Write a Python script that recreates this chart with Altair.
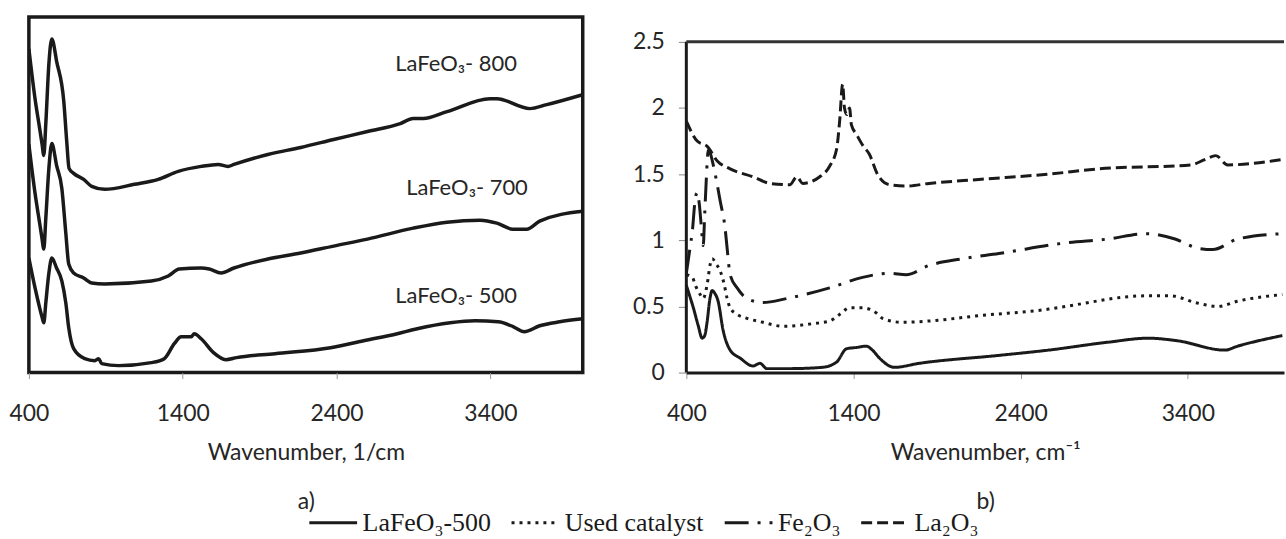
import altair as alt
import pandas as pd

# ---------------- Panel a) : LaFeO3 calcined at 500/700/800 (offset, arbitrary units)
a800_w = [400, 440, 470, 485, 497, 510, 530, 549, 581, 627, 646, 661, 691, 756, 808, 892, 1086, 1241, 1371, 1520, 1630, 1694, 1733, 1953, 2167, 2381, 2601, 2814, 2898, 2963, 3118, 3397, 3442, 3656, 3766, 4000]
a800_v = [3.25, 2.75, 2.45, 2.30, 2.18, 2.50, 3.10, 3.35, 3.12, 2.72, 2.32, 2.05, 2.00, 1.94, 1.87, 1.84, 1.89, 1.94, 2.02, 2.07, 2.09, 2.07, 2.09, 2.19, 2.26, 2.34, 2.42, 2.50, 2.55, 2.55, 2.62, 2.75, 2.75, 2.65, 2.69, 2.79]

a700_w = [400, 440, 470, 485, 497, 510, 530, 549, 580, 614, 640, 659, 691, 756, 808, 892, 1196, 1306, 1377, 1520, 1572, 1649, 1733, 1953, 2167, 2381, 2601, 2898, 3118, 3332, 3442, 3546, 3636, 3720, 4000]
a700_v = [2.29, 1.80, 1.50, 1.35, 1.24, 1.55, 2.05, 2.30, 2.08, 1.85, 1.40, 1.09, 1.00, 0.95, 0.90, 0.89, 0.92, 0.97, 1.04, 1.05, 1.04, 1.00, 1.05, 1.14, 1.20, 1.27, 1.34, 1.45, 1.51, 1.53, 1.50, 1.44, 1.44, 1.52, 1.62]

a500_w = [400, 440, 470, 485, 497, 510, 530, 549, 580, 614, 640, 659, 691, 763, 828, 854, 873, 983, 1196, 1280, 1345, 1390, 1455, 1475, 1520, 1600, 1680, 1750, 2000, 2361, 2576, 2795, 2924, 3138, 3300, 3450, 3550, 3620, 3720, 3850, 4000]
a500_v = [1.15, 0.85, 0.65, 0.56, 0.50, 0.70, 1.00, 1.15, 1.05, 0.92, 0.70, 0.45, 0.24, 0.14, 0.12, 0.14, 0.09, 0.07, 0.10, 0.14, 0.29, 0.36, 0.36, 0.39, 0.34, 0.20, 0.13, 0.15, 0.19, 0.25, 0.32, 0.39, 0.44, 0.50, 0.52, 0.51, 0.46, 0.41, 0.47, 0.51, 0.54]

ann_text = ["LaFeO\u2083- 800", "LaFeO\u2083- 700", "LaFeO\u2083- 500"]
ann_w = [3177, 3248, 3177]
ann_v = [3.10, 1.85, 0.77]

# ---------------- Panel b)
b_series = ["LaFeO\u2083-500", "Used catalyst", "Fe\u2082O\u2083", "La\u2082O\u2083"]

b500_w = [400, 420, 442, 470, 495, 510, 525, 540, 555, 570, 590, 620, 662, 721, 799, 840, 882, 1019, 1215, 1299, 1358, 1418, 1477, 1513, 1555, 1644, 1793, 2269, 2567, 2924, 3162, 3340, 3620, 3698, 3965]
b500_v = [0.66, 0.58, 0.49, 0.36, 0.26, 0.28, 0.39, 0.55, 0.62, 0.60, 0.54, 0.32, 0.17, 0.11, 0.05, 0.07, 0.03, 0.03, 0.04, 0.08, 0.18, 0.19, 0.20, 0.17, 0.11, 0.04, 0.07, 0.13, 0.17, 0.23, 0.26, 0.24, 0.17, 0.20, 0.28]

bused_w = [400, 436, 454, 483, 501, 525, 543, 555, 579, 602, 626, 644, 662, 704, 763, 858, 977, 1156, 1257, 1317, 1376, 1454, 1537, 1573, 1692, 1852, 2150, 2567, 2668, 3144, 3299, 3442, 3579, 3698, 3965]
bused_v = [0.74, 0.72, 0.66, 0.59, 0.56, 0.67, 0.82, 0.86, 0.82, 0.77, 0.67, 0.56, 0.49, 0.44, 0.41, 0.38, 0.35, 0.37, 0.39, 0.44, 0.49, 0.49, 0.45, 0.41, 0.38, 0.39, 0.43, 0.48, 0.50, 0.58, 0.58, 0.53, 0.50, 0.54, 0.59]

bfe_w = [400, 424, 436, 454, 465, 477, 490, 501, 510, 519, 531, 545, 561, 585, 602, 632, 644, 662, 704, 763, 858, 1001, 1257, 1454, 1614, 1715, 1852, 2049, 2269, 2668, 2924, 3144, 3323, 3460, 3549, 3698, 3965]
bfe_v = [0.75, 0.96, 1.07, 1.32, 1.36, 1.28, 1.10, 0.96, 1.20, 1.45, 1.68, 1.65, 1.57, 1.42, 1.30, 1.09, 0.94, 0.74, 0.64, 0.56, 0.53, 0.56, 0.64, 0.72, 0.75, 0.74, 0.81, 0.86, 0.90, 0.98, 1.01, 1.05, 1.01, 0.94, 0.93, 1.01, 1.05]

bla_w = [400, 465, 525, 585, 662, 799, 900, 1019, 1061, 1096, 1198, 1257, 1299, 1317, 1335, 1346, 1360, 1376, 1388, 1418, 1454, 1495, 1543, 1614, 1715, 1852, 2150, 2567, 2864, 3418, 3501, 3567, 3638, 3965]
bla_v = [1.90, 1.75, 1.71, 1.60, 1.54, 1.48, 1.43, 1.42, 1.48, 1.43, 1.48, 1.56, 1.69, 1.90, 2.18, 2.00, 1.95, 2.00, 1.87, 1.80, 1.72, 1.65, 1.50, 1.42, 1.41, 1.43, 1.46, 1.50, 1.54, 1.57, 1.61, 1.64, 1.57, 1.61]

x_ticks = [400, 1400, 2400, 3400]
y_ticks_b = [0, 0.5, 1, 1.5, 2, 2.5]

# ---------------- data frames
def frame(name, w, v):
    return pd.DataFrame({"series": name, "w": w, "v": v, "order": range(len(w))})

df_a = pd.concat([frame("800", a800_w, a800_v), frame("700", a700_w, a700_v), frame("500", a500_w, a500_v)])
df_ann = pd.DataFrame({"label": ann_text, "w": ann_w, "v": ann_v})
df_b = pd.concat([frame(b_series[0], b500_w, b500_v), frame(b_series[1], bused_w, bused_v),
                  frame(b_series[2], bfe_w, bfe_v), frame(b_series[3], bla_w, bla_v)])

INK = "#1a1a1a"
TXT = "#262626"
FONT = "Lato"

# ---------------- panel a
xa = alt.X("w:Q", scale=alt.Scale(domain=[400, 4000], nice=False, zero=False),
           axis=alt.Axis(values=x_ticks, format="d", domain=False, grid=False, tickColor="#999999", tickSize=6,
                         labelFont=FONT, labelFontSize=23, labelColor=TXT, labelPadding=24, labelFlush=False,
                         title=["Wavenumber, 1/cm", "a)"], titleFont=FONT, titleFontSize=23,
                         titleFontWeight="normal", titleColor=TXT, titleLineHeight=49, titlePadding=16))
ya = alt.Y("v:Q", scale=alt.Scale(domain=[0, 3.57], nice=False, zero=False), axis=None)

a_lines = alt.Chart(df_a).mark_line(color=INK, strokeWidth=3.5, interpolate="monotone", clip=True).encode(
    x=xa, y=ya, detail="series:N", order="order:Q")
a_text = alt.Chart(df_ann).mark_text(font=FONT, fontSize=22, color=TXT).encode(
    x="w:Q", y="v:Q", text="label:N")
panel_a = alt.layer(a_lines, a_text).properties(
    width=556, height=357, view=alt.ViewConfig(stroke=INK, strokeWidth=3.5))

# ---------------- panel b
xb = alt.X("w:Q", scale=alt.Scale(domain=[400, 3975], nice=False, zero=False),
           axis=alt.Axis(values=x_ticks, format="d", domain=True, domainColor=INK, domainWidth=3, grid=False,
                         tickColor="#999999", tickSize=6, labelFont=FONT, labelFontSize=23, labelColor=TXT,
                         labelPadding=24, labelFlush=False,
                         title=["Wavenumber, cm\u207b\u00b9", "b)"], titleFont=FONT, titleFontSize=23,
                         titleFontWeight="normal", titleColor=TXT, titleLineHeight=49, titlePadding=16))
yb = alt.Y("v:Q", scale=alt.Scale(domain=[0, 2.688], nice=False, zero=False),
           axis=alt.Axis(values=y_ticks_b, format="~g", domain=False, grid=False, tickColor="#888888",
                         tickSize=8, labelFont=FONT, labelFontSize=23, labelColor=TXT, labelPadding=14,
                         title=None))

b_lines = alt.Chart(df_b).mark_line(color=INK, interpolate="monotone", clip=True).encode(
    x=xb, y=yb, order="order:Q",
    strokeDash=alt.StrokeDash("series:N",
        scale=alt.Scale(domain=b_series, range=[[1, 0], [3, 5], [24, 9, 3, 9], [11, 5]]),
        legend=alt.Legend(title=None, orient="none", legendX=280, legendY=482, direction="horizontal",
                          symbolType="stroke", symbolSize=2300, symbolStrokeWidth=3,
                          symbolStrokeColor=INK, labelFont="Liberation Serif", labelFontSize=26,
                          labelColor=INK, columnPadding=14, labelOffset=4, labelLimit=300)),
    strokeWidth=alt.StrokeWidth("series:N", scale=alt.Scale(domain=b_series, range=[3, 3, 3.2, 4]),
                                legend=None),
)
b_left = alt.Chart().mark_rule(color=INK, strokeWidth=3).encode(
    x=alt.datum(400), y=alt.datum(0), y2=alt.datum(2.5))
b_top = alt.Chart().mark_rule(color="#333333", strokeWidth=3).encode(
    x=alt.datum(400), x2=alt.datum(3975), y=alt.datum(2.5))
panel_b = alt.layer(b_lines, b_left, b_top).properties(
    width=600, height=357, view=alt.ViewConfig(stroke="transparent"))

chart = alt.hconcat(panel_a, panel_b, spacing=47).properties(
    padding={"left": 7, "top": 14, "right": 0, "bottom": 0},
    background="white",
).configure_view(stroke="transparent")

chart.save("out.html", embed_options={"renderer": "svg", "actions": False})
